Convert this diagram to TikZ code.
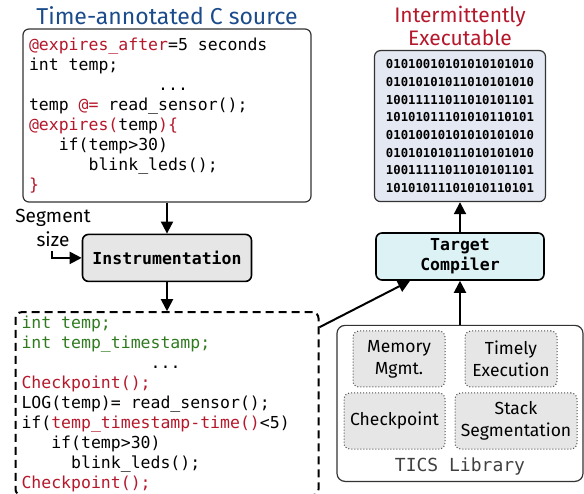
\documentclass[tikz,border=0pt]{standalone}
\usepackage{fontspec}
\setmainfont{Fira Sans}
\setmonofont{DejaVu Sans Mono}
\usepackage{tikz}
\usetikzlibrary{positioning,arrows.meta}

\definecolor{codered}{HTML}{B5172B}
\definecolor{codegreen}{HTML}{2F7A1F}
\definecolor{titleblue}{HTML}{1B4B8A}
\definecolor{binfill}{HTML}{E4E8F2}
\definecolor{compfill}{HTML}{DDF2F5}
\definecolor{modfill}{HTML}{E6E6E6}

\newcommand{\cred}[1]{\textcolor{codered}{#1}}
\newcommand{\cgreen}[1]{\textcolor{codegreen}{#1}}
\newcommand{\ind}[1]{\hspace*{#1\fontcharwd\font`0}}
\newcommand{\monospace}{\spaceskip=\fontcharwd\font`0\relax}

\begin{document}
\begin{tikzpicture}[x=1pt, y=-1pt,
    node distance=30pt,
    codebox/.style={rectangle, rounded corners=6pt, align=flush left, inner sep=0pt, font=\ttfamily\fontsize{16.5}{20}\selectfont\monospace},
    block/.style={rectangle, draw, line width=1.6pt, rounded corners=6pt, align=center, minimum height=47pt, font=\ttfamily\bfseries\fontsize{16.5}{20}\selectfont},
    module/.style={rectangle, draw=black!70, dotted, line width=1pt, rounded corners=6pt, fill=modfill, align=center, minimum height=56pt, inner sep=2pt, font=\fontsize{17.5}{22}\selectfont},
    arrow/.style={line width=2pt, -{Triangle[length=12pt, width=12pt]}}
]
\useasboundingbox (0,0) rectangle (584,494);

% Time-annotated source
\node[codebox, draw=black!80, line width=1.2pt, fill=white, text width=276pt, minimum width=288pt, minimum height=173pt] (source) at (167,115.5) {\cred{@expires\_after}=5 seconds\\
int temp;\\
\ind{13}...\\
temp \cred{@=} read\_sensor();\\
\cred{@expires(}temp\cred{)\{}\\
\ind{3}if(temp>30)\\
\ind{6}blink\_leds();\\
\cred{\}}};
\node[above=0pt of source, font=\fontsize{23}{25}\selectfont, text=titleblue] (sourcetitle) {Time-annotated C source};

% Instrumentation pass
\node[block, fill=modfill, minimum width=169pt, below=31pt of source] (instr) {Instrumentation};
\node[align=center, font=\fontsize{19}{24}\selectfont] (segsize) at (53,228) {Segment\\size};
\coordinate (segin) at (52,251);

% Instrumented output
\node[codebox, draw, dash pattern=on 8pt off 5pt, line width=2pt, text width=291pt, minimum width=303pt, minimum height=183pt, below=29pt of instr] (instrumented) {\cgreen{int temp;}\\
\cgreen{int temp\_timestamp;}\\
\ind{13}...\\
\cred{Checkpoint();}\\
LOG(temp)= read\_sensor();\\
if(\cred{temp\_timestamp-time()}<5)\\
\ind{3}if(temp>30)\\
\ind{5}blink\_leds();\\
\cred{Checkpoint();}};

% Target compiler and binary
\node[block, fill=compfill, minimum width=168pt] (compiler) at (460,256.5) {Target\\Compiler};
\node[codebox, draw=black!80, line width=1.2pt, fill=binfill, align=flush center, minimum width=171pt, minimum height=151pt, above=30pt of compiler, font=\ttfamily\bfseries\fontsize{12.3}{17.7}\selectfont] (binary) {01010010101010101010\\
01010101011010101010\\
10011111011010101101\\
10101011101010110101\\
01010010101010101010\\
01010101011010101010\\
10011111011010101101\\
10101011101010110101};
\node[above=1pt of binary, align=center, text=codered, font=\fontsize{21}{23}\selectfont] (bintitle) {Intermittently\\Executable};

% TICS library
\node[rectangle, draw=black!80, line width=1.2pt, rounded corners=8pt, minimum width=246pt, minimum height=156pt, below=44pt of compiler] (tics) {};
\node[module, minimum width=92pt] (memory) at (399,359) {Memory\\Mgmt.};
\node[module, minimum width=92pt] (timely) at (511,359) {Timely\\Execution};
\node[module, minimum width=101pt] (checkpoint) at (394.5,421) {Checkpoint};
\node[module, minimum width=122pt] (stack) at (516,421) {Stack\\Segmentation};
\node[font=\ttfamily\fontsize{18}{20}\selectfont\monospace, text=black!75] (ticslabel) at (460,467) {TICS Library};

% Arrows
\draw[arrow] (source) -- (instr);
\draw[arrow] (segin) |- (instr.west);
\draw[arrow] (instr) -- (instrumented);
\draw[arrow] ([yshift=-16pt]instrumented.north east) -- ([xshift=-50pt]compiler.south);
\draw[arrow] (tics) -- (compiler);
\draw[arrow] (compiler) -- (binary);

\end{tikzpicture}
\end{document}
